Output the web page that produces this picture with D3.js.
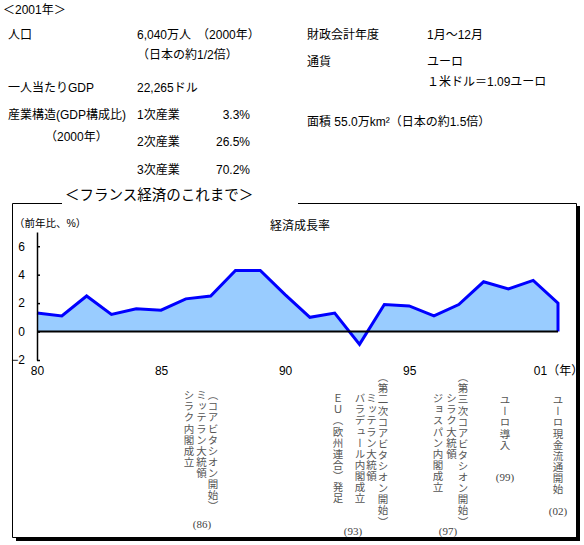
<!DOCTYPE html>
<html><head><meta charset="utf-8">
<script src="https://cdn.jsdelivr.net/npm/d3@7"></script>
<style>body{margin:0;background:#fff} svg{display:block}</style>
</head><body><svg id="c" width="584" height="545"></svg>
<script>
// ---- data ----
const years  = [1980,1981,1982,1983,1984,1985,1986,1987,1988,1989,1990,1991,1992,1993,1994,1995,1996,1997,1998,1999,2000,2001];
const growth = [1.3,1.1,2.5,1.2,1.6,1.5,2.3,2.5,4.3,4.3,2.6,1.0,1.3,-0.9,1.9,1.8,1.1,1.9,3.5,3.0,3.6,2.0];
const xTickValues = [1980,1985,1990,1995,2001];
const xTickLabels = ["80","85","90","95","01（年）"];
const yTickValues = [-2,0,2,4,6];
const chartTitle = "＜フランス経済のこれまで＞";
const seriesName = "経済成長率";
const yUnit = "（前年比、%）";
const headerTitle = "＜2001年＞";
const infoLeftLabels = ["人口","一人当たりGDP","産業構造(GDP構成比)","（2000年）"];
const infoLeftValues = ["6,040万人　（2000年）","（日本の約1/2倍）","22,265ドル"];
const industryNames = ["1次産業","2次産業","3次産業"];
const industryShares = ["3.3%","26.5%","70.2%"];
const infoRightLabels = ["財政会計年度","通貨"];
const infoRightValues = ["1月～12月","ユーロ","１米ドル＝1.09ユーロ"];
const areaText = "面積 55.0万km²（日本の約1.5倍）";
const events = [
  {tag:"(86)", cols:["（コアビタシオン開始）","ミッテラン大統領","シラク内閣成立"]},
  {tag:"(93)", cols:["（第二次コアビタシオン開始）","ミッテラン大統領","バラデュール内閣成立","","ＥＵ（欧州連合）発足"]},
  {tag:"(97)", cols:["（第三次コアビタシオン開始）","シラク大統領","ジョスパン内閣成立"]},
  {tag:"(99)", cols:["ユーロ導入"]},
  {tag:"(02)", cols:["ユーロ現金流通開始"]}
];
// ---- layout (positions only) ----
const evLayout = [
  {colX:[213,201.5,189], colY:[390,390,390], tagX:202, tagY:528},
  {colX:[383,371.5,360,349,338], colY:[372,393,393,393,393], tagX:353, tagY:535},
  {colX:[463,451.5,438], colY:[372,393,393], tagX:448, tagY:535},
  {colX:[505], colY:[395], tagX:505, tagY:481},
  {colX:[558], colY:[395], tagX:558, tagY:515}
];

const svg = d3.select("#c");
const SANS = "'Liberation Sans','Noto Sans CJK JP',sans-serif";

function txt(s, x, y, opt={}) {
  return svg.append("text").attr("x",x).attr("y",y)
    .attr("font-family",opt.ff||SANS).attr("font-size",opt.fs||12)
    .attr("text-anchor",opt.anchor||"start").attr("fill",opt.fill||"#000")
    .text(s);
}
// header info
txt(headerTitle, 3, 14);
txt(infoLeftLabels[0], 8, 39);
txt(infoLeftValues[0], 137, 39);
txt(infoLeftValues[1], 137, 59);
txt(infoLeftLabels[1], 8, 92);
txt(infoLeftValues[2], 137, 92);
txt(infoLeftLabels[2], 8, 119);
txt(infoLeftLabels[3], 45, 141);
const indY = [119, 146, 174];
industryNames.forEach((n,i)=>{ txt(n,137,indY[i]); txt(industryShares[i],250,indY[i],{anchor:"end"}); });
txt(infoRightLabels[0], 307, 39);
txt(infoRightValues[0], 427, 39);
txt(infoRightLabels[1], 307, 66);
txt(infoRightValues[1], 427, 66);
txt(infoRightValues[2], 427, 86);
txt(areaText, 307, 126);

// frame
svg.append("rect").attr("x",16).attr("y",537).attr("width",564).attr("height",4).attr("fill","#000");
svg.append("rect").attr("x",576).attr("y",206).attr("width",4).attr("height",335).attr("fill","#000");
svg.append("path").attr("d","M62,203.5H12.5V537.5H576.5V203.5H298").attr("fill","none").attr("stroke","#000").attr("stroke-width",1);
txt(chartTitle, 65, 200, {fs:14.5});

// scales
const x = d3.scaleLinear().domain([1980,2001]).range([37,558]);
const y = d3.scaleLinear().domain([-2,7]).range([360,232]);
const data = years.map((yr,i)=>({year:yr, v:growth[i]}));

// area
svg.append("path").datum(data)
  .attr("d", d3.area().x(d=>x(d.year)).y0(y(0)).y1(d=>y(d.v)))
  .attr("fill","#99ccff");
const lineData = data.concat([{year:years[years.length-1], v:0}]);
svg.append("path").datum(lineData)
  .attr("d", d3.line().x(d=>x(d.year)).y(d=>y(d.v)))
  .attr("fill","none").attr("stroke","#0000ff").attr("stroke-width",3).attr("stroke-linejoin","miter");
// zero line
svg.append("line").attr("x1",x(1980)).attr("x2",x(2001)).attr("y1",y(0)).attr("y2",y(0))
  .attr("stroke","#000").attr("stroke-width",2);

// y axis
const ya = svg.append("g").attr("transform",`translate(${x(1980)},0)`)
  .call(d3.axisLeft(y).tickValues(yTickValues).tickSizeInner(-3).tickSizeOuter(0).tickPadding(12).tickFormat(d3.format("d")));
ya.selectAll("text").attr("font-family",SANS).attr("font-size",12).attr("fill","#000").text(d=> d<0 ? "−"+(-d) : d);
ya.selectAll("path,line").attr("stroke","#000").attr("stroke-width",1.5);

// x axis
const xa = svg.append("g").attr("transform","translate(0,366)")
  .call(d3.axisBottom(x).tickValues(xTickValues).tickSize(0).tickPadding(0).tickFormat((d,i)=>xTickLabels[i]));
xa.select(".domain").remove();
xa.selectAll("text").attr("font-family",SANS).attr("font-size",12).attr("fill","#000");

txt(seriesName, 300, 230, {anchor:"middle"});
txt(yUnit, 14, 227, {fs:10.5});

// events (vertical text)
events.forEach((ev,i)=>{
  const L = evLayout[i];
  ev.cols.forEach((c,j)=>{
    if (!c) return;
    svg.append("text").attr("x",L.colX[j]).attr("y",L.colY[j])
      .style("writing-mode","vertical-rl")
      .attr("font-family","'Noto Sans CJK JP',sans-serif").attr("font-size",10.5)
      .attr("letter-spacing",0.6).attr("fill","#555").text(c);
  });
  svg.append("text").attr("x",L.tagX).attr("y",L.tagY).attr("text-anchor","middle")
    .attr("font-family","'Liberation Serif',serif").attr("font-size",11).attr("fill","#444").text(ev.tag);
});
</script></body></html>
